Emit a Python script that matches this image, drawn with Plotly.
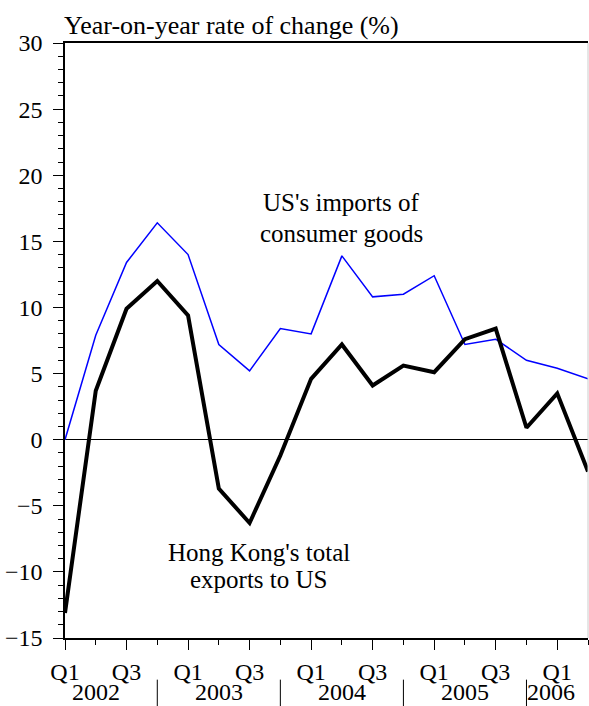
import plotly.graph_objects as go

quarters = ["Q1", "Q2", "Q3", "Q4"] * 4 + ["Q1", "Q2"]
years = ["2002", "2003", "2004", "2005", "2006"]
us_imports = [0.0, 7.9, 13.4, 16.4, 14.0, 7.2, 5.2, 8.4, 8.0, 13.9, 10.8, 11.0, 12.4, 7.2, 7.6, 6.0, 5.4, 4.6]
hk_exports = [-13.1, 3.7, 9.9, 12.0, 9.4, -3.7, -6.3, -1.2, 4.6, 7.2, 4.1, 5.6, 5.1, 7.6, 8.4, 0.9, 3.5, -2.4]

x = list(range(len(quarters)))
FONT = "Liberation Serif"

fig = go.Figure()
fig.add_trace(go.Scatter(x=x, y=us_imports, mode="lines", line=dict(color="#0000ff", width=1.5), showlegend=False))
fig.add_trace(go.Scatter(x=x, y=hk_exports, mode="lines", line=dict(color="black", width=4), showlegend=False))

major_idx = [i for i, q in enumerate(quarters) if q in ("Q1", "Q3")]
minor_idx = [i for i, q in enumerate(quarters) if q not in ("Q1", "Q3")]

fig.update_layout(
    width=589, height=706,
    margin=dict(l=65, r=1, t=43, b=68),
    plot_bgcolor="white", paper_bgcolor="white",
    font=dict(family=FONT, size=24, color="black"),
    xaxis=dict(
        range=[0, len(quarters) - 1],
        tickmode="array", tickvals=major_idx, ticktext=[quarters[i] for i in major_idx],
        ticks="outside", ticklen=10, tickwidth=1, tickcolor="black",
        minor=dict(tickvals=minor_idx, ticks="outside", ticklen=5, tickwidth=1, tickcolor="black"),
        showline=True, linecolor="black", linewidth=1.5, mirror=True,
        showgrid=False, zeroline=False,
        tickfont=dict(family=FONT, size=24),
        ticklabelstandoff=1,
    ),
    yaxis=dict(
        range=[-15, 30],
        tickmode="linear", tick0=-15, dtick=5,
        ticks="outside", ticklen=10, tickwidth=1, tickcolor="black",
        minor=dict(dtick=1, ticks="outside", ticklen=5, tickwidth=1, tickcolor="black"),
        showline=True, linecolor="black", linewidth=1.5,
        showgrid=False, zeroline=True, zerolinecolor="black", zerolinewidth=1,
        tickfont=dict(family=FONT, size=24),
        ticklabelstandoff=6,
    ),
)

# right frame edge
fig.add_shape(type="line", xref="paper", yref="paper", x0=1, x1=1, y0=0, y1=1,
              line=dict(color="#cccccc", width=1))

# year labels and separators
year_centers = [1, 5, 9, 13]
for yr, c in zip(years[:-1], year_centers):
    fig.add_annotation(text=yr, x=c, xref="x", y=-0.1143, yref="paper", showarrow=False,
                       yanchor="bottom", borderpad=0, font=dict(family=FONT, size=24))
fig.add_annotation(text=years[-1], x=15, xref="x", y=-0.1143, yref="paper", showarrow=False,
                   xanchor="left", yanchor="bottom", borderpad=0, font=dict(family=FONT, size=24))
for sep in [3, 7, 11, 15]:
    fig.add_shape(type="line", xref="x", yref="paper", x0=sep, x1=sep, y0=-0.07, y1=-0.12,
                  line=dict(color="black", width=1))

fig.add_annotation(text="Year-on-year rate of change (%)", x=0, xref="paper", y=1.0, yref="paper",
                   xanchor="left", yanchor="bottom", xshift=-3, yshift=1, showarrow=False,
                   font=dict(family=FONT, size=26))

us_label = ["US's imports of", "consumer goods"]
hk_label = ["Hong Kong's total", "exports to US"]
for i, line in enumerate(us_label):
    fig.add_annotation(text=line, x=9.0, y=17.9 - 2.27 * i, xref="x", yref="y",
                       showarrow=False, font=dict(family=FONT, size=25))
for i, line in enumerate(hk_label):
    fig.add_annotation(text=line, x=6.3, y=-8.5 - 2.1 * i, xref="x", yref="y",
                       showarrow=False, font=dict(family=FONT, size=25))

# remove the default 8px page margin so the figure fills the 589x706 window exactly
fig.write_html("out.html", config={"displayModeBar": False},
               post_script="document.body.style.margin='0';document.body.style.overflow='hidden';")
